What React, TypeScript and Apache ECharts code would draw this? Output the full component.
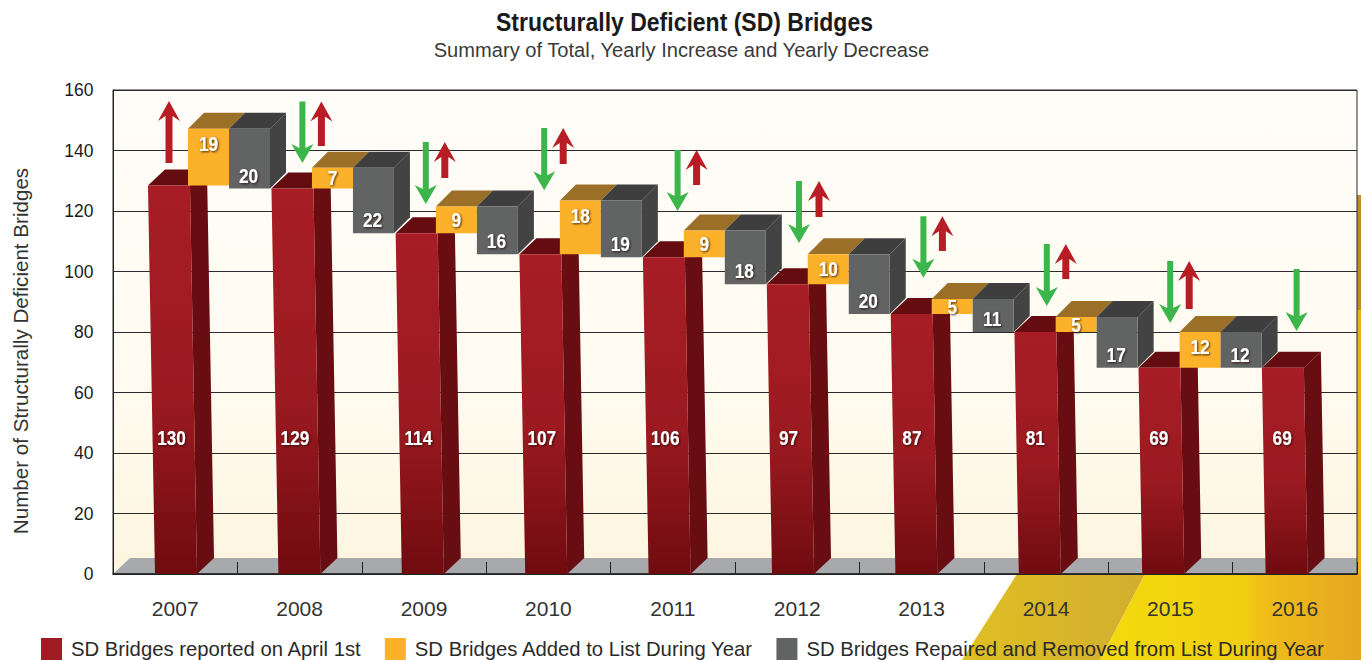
import React, { useEffect, useRef } from "react";
import * as echarts from "echarts";

const years = ["2007", "2008", "2009", "2010", "2011", "2012", "2013", "2014", "2015", "2016"];
const reported = [130, 129, 114, 107, 106, 97, 87, 81, 69, 69];
const added = [19, 7, 9, 18, 9, 10, 5, 5, 12, null];
const removed = [20, 22, 16, 19, 18, 20, 11, 17, 12, null];

// arrow extents, read in axis units
const arrowTop = [156.4, 156.2, 142.8, 147.4, 140.2, 129.9, 118.3, 109.1, 103.5, 100.8];
const greenTip = [null, 135.9, 122.3, 126.9, 120, 109.4, 97.9, 88.6, 83, 80.3];
const redTail = [135.9, 141.5, 130.9, 135.5, 128.6, 118, 106.8, 97.5, 87.6, null];

const TITLE = "Structurally Deficient (SD) Bridges";
const SUBTITLE = "Summary of Total, Yearly Increase and Yearly Decrease";
const LEGEND_RED = "SD Bridges reported on April 1st";
const LEGEND_ORANGE = "SD Bridges Added to List During Year";
const LEGEND_GRAY = "SD Bridges Repaired and Removed from List During Year";

const greenDx = [0, 2, 1, -5, 4, 1, 1, 0, -1, 1];
const redDx = [-7, 21, 20, 14, 23, 21, 20, 19, 18, 0];

const SANS = '"Liberation Sans", Arial, sans-serif';

const DEPTH = 16;
const BAR_W = 42;
const BOX_W = 41;
// the drawing's bars sit on a slightly flatter scale than the axis
const yPx = (api: any, v: number) => api.coord([0, v])[1] + 0.037 * v;

const numberLabel = (text: string, x: number, y: number) => ({
  type: "text",
  z2: 10,
  x,
  y,
  scaleX: 0.82,
  style: {
    text,
    x: 0,
    y: 0,
    align: "center",
    verticalAlign: "middle",
    fill: "#fff",
    font: `bold 21px ${SANS}`,
    textShadowColor: "rgba(40,10,10,0.85)",
    textShadowBlur: 2,
    textShadowOffsetX: 1,
    textShadowOffsetY: 1,
  },
});

const poly = (points: number[][], fill: any, z2 = 0) => ({
  type: "polygon",
  z2,
  shape: { points },
  style: { fill },
});

const vGrad = (stops: [number, string][]) =>
  new echarts.graphic.LinearGradient(
    0,
    0,
    0,
    1,
    stops.map(([offset, color]) => ({ offset, color }))
  );

function renderBar(_: any, api: any) {
  const i = api.value(0);
  const v = api.value(1);
  const cx = api.coord([i, 0])[0] + 0.8 - i;
  const y0 = api.coord([i, 0])[1];
  const y1 = yPx(api, v);
  const skew = 0.054 * v;
  const bl = cx - BAR_W / 2;
  const br = bl + BAR_W;
  const tl = bl - skew;
  const tr = br - skew;
  const labelY = api.coord([i, 45.1])[1];
  const labelX = cx - 2 - skew * ((y0 - labelY) / (y0 - y1));
  return {
    type: "group",
    children: [
      poly(
        [
          [tr, y1],
          [tr + 17, y1 - DEPTH],
          [br + 17, y0 - DEPTH],
          [br, y0],
        ],
        "#680d12"
      ),
      poly(
        [
          [tl, y1],
          [tl + 17, y1 - DEPTH],
          [tr + 17, y1 - DEPTH],
          [tr, y1],
        ],
        "#650c10"
      ),
      poly(
        [
          [tl, y1],
          [tr, y1],
          [br, y0],
          [bl, y0],
        ],
        vGrad([
          [0, "#a81d25"],
          [0.55, "#9a1a20"],
          [1, "#700b10"],
        ])
      ),
      numberLabel(String(v), labelX, labelY),
    ],
  };
}

function boxLeft(api: any, i: number) {
  return api.coord([i, 0])[0] + 12.8 - 0.45 * i;
}

function renderAdded(_: any, api: any) {
  const i = api.value(0);
  const base = api.value(1);
  const v = api.value(2);
  const x = boxLeft(api, i);
  const yb = yPx(api, base);
  const yt = yPx(api, base + v);
  const h = yb - yt;
  return {
    type: "group",
    children: [
      poly(
        [
          [x, yt],
          [x + DEPTH, yt - DEPTH],
          [x + BOX_W + DEPTH, yt - DEPTH],
          [x + BOX_W, yt],
        ],
        "#9b6f28"
      ),
      poly(
        [
          [x, yt],
          [x + BOX_W, yt],
          [x + BOX_W, yb],
          [x, yb],
        ],
        "#fbb12a"
      ),
      numberLabel(String(v), x + BOX_W / 2, yt + Math.min(15, h / 2)),
    ],
  };
}

function renderRemoved(_: any, api: any) {
  const i = api.value(0);
  const top = api.value(1);
  const v = api.value(2);
  const x = boxLeft(api, i) + BOX_W;
  const yt = yPx(api, top);
  const yb = yPx(api, top - v);
  return {
    type: "group",
    children: [
      poly(
        [
          [x, yt],
          [x + DEPTH, yt - DEPTH],
          [x + BOX_W + DEPTH, yt - DEPTH],
          [x + BOX_W, yt],
        ],
        "#3d3e3d"
      ),
      poly(
        [
          [x + BOX_W, yt],
          [x + BOX_W + DEPTH, yt - DEPTH],
          [x + BOX_W + DEPTH, yb - DEPTH],
          [x + BOX_W, yb],
        ],
        "#424342"
      ),
      poly(
        [
          [x, yt],
          [x + BOX_W, yt],
          [x + BOX_W, yb],
          [x, yb],
        ],
        "#626363"
      ),
      numberLabel(String(v), x + BOX_W / 2 - 1, yb - 13),
    ],
  };
}

function renderGreen(_: any, api: any) {
  const i = api.value(0);
  const x = api.coord([i, 0])[0] + 0.8 + greenDx[i];
  const t = api.coord([i, api.value(1)])[1];
  const e = api.coord([i, api.value(2)])[1];
  return poly(
    [
      [x - 3, t],
      [x + 3, t],
      [x + 3, e - 15],
      [x + 11, e - 19],
      [x, e],
      [x - 11, e - 19],
      [x - 3, e - 15],
    ],
    "#3cb54a",
    20
  );
}

function renderRed(_: any, api: any) {
  const i = api.value(0);
  const x = api.coord([i, 0])[0] + 0.8 + redDx[i];
  const t = api.coord([i, api.value(1)])[1];
  const e = api.coord([i, api.value(2)])[1];
  return poly(
    [
      [x, t],
      [x + 11, t + 20],
      [x + 3.5, t + 15],
      [x + 3.5, e],
      [x - 3.5, e],
      [x - 3.5, t + 15],
      [x - 11, t + 20],
    ],
    "#b81c24",
    20
  );
}

export default function App() {
  const ref = useRef<HTMLDivElement>(null);
  useEffect(() => {
    document.body.style.margin = "0";
    document.body.style.overflow = "hidden";
    document.body.style.background = "#fff";
    const chart = echarts.init(ref.current!, undefined, { renderer: "svg" });

    const barData = reported.map((v, i) => [i, v]);
    const addData = added.flatMap((v, i) => (v == null ? [] : [[i, reported[i], v]]));
    const remData = removed.flatMap((v, i) =>
      v == null ? [] : [[i, reported[i] + (added[i] as number), v]]
    );
    const greenData = greenTip.flatMap((v, i) => (v == null ? [] : [[i, arrowTop[i], v]]));
    const redData = redTail.flatMap((v, i) => (v == null ? [] : [[i, arrowTop[i], v]]));

    chart.setOption({
      animation: false,
      backgroundColor: "#fff",
      grid: { left: 113, right: 4, top: 90, bottom: 86, show: true, borderColor: "#2a2a2a", borderWidth: 1, backgroundColor: "transparent" },
      legend: {
        left: 41,
        top: 638,
        padding: 0,
        itemWidth: 21,
        itemHeight: 22,
        itemGap: 23,
        icon: "rect",
        data: [LEGEND_RED, LEGEND_ORANGE, LEGEND_GRAY],
        textStyle: { fontFamily: SANS, fontSize: 20.3, lineHeight: 20, color: "#2a2a2a", padding: [0, 0, 0, 4] },
      },
      xAxis: {
        type: "category",
        data: years,
        z: 1,
        axisLine: { show: true, lineStyle: { color: "#222", width: 1.5 } },
        axisTick: { show: true, inside: true, length: 12, lineStyle: { color: "#222" } },
        axisLabel: { margin: 24, fontFamily: SANS, fontSize: 21, color: "#333" },
      },
      yAxis: {
        type: "value",
        min: 0,
        max: 160,
        interval: 20,
        name: "Number of Structurally Deficient Bridges",
        nameLocation: "middle",
        nameGap: 82,
        nameTextStyle: { fontFamily: SANS, fontSize: 20.6, color: "#333", padding: [0, 38, 0, 0] },
        axisLine: { show: true, lineStyle: { color: "#222" } },
        axisTick: { show: false },
        axisLabel: { margin: 19.5, fontFamily: SANS, fontSize: 17.5, color: "#1a1a1a" },
        splitLine: { show: true, lineStyle: { color: "#2a2a2a", width: 1 } },
      },
      graphic: [
        { type: "polygon", z: -20, silent: true, shape: { points: [[1017, 574], [1145, 574], [1100, 660], [962, 660]] }, style: { fill: new echarts.graphic.LinearGradient(0, 0, 1, 0, [{ offset: 0, color: "#dfbf22" }, { offset: 1, color: "#d2ae30" }]) } },
        { type: "polygon", z: -20, silent: true, shape: { points: [[1145, 574], [1361, 574], [1361, 660], [1100, 660]] }, style: { fill: new echarts.graphic.LinearGradient(0, 0, 1, 0, [{ offset: 0, color: "#f3da0c" }, { offset: 0.55, color: "#f0cf12" }, { offset: 0.62, color: "#efbe18" }, { offset: 1, color: "#e6a622" }]) } },
        { type: "rect", z: -20, silent: true, shape: { x: 1357, y: 195, width: 4, height: 115 }, style: { fill: "#c28a2c" } },
        { type: "rect", z: -20, silent: true, shape: { x: 1357, y: 310, width: 4, height: 264 }, style: { fill: "#eeb01f" } },
        { type: "rect", z: -15, silent: true, shape: { x: 113, y: 90, width: 1244, height: 484 }, style: { fill: vGrad([[0, "#fffdf9"], [0.6, "#fffbf0"], [1, "#fdf5df"]]) } },
        { type: "polygon", z: -14, silent: true, shape: { points: [[113, 574], [130, 558], [1357, 558], [1357, 574]] }, style: { fill: "#a7a9ac" } },
        { type: "text", x: 684.5, y: 22, scaleX: 0.92, style: { text: TITLE, x: 0, y: 0, align: "center", verticalAlign: "middle", font: `bold 25px ${SANS}`, fill: "#1a1a1a" } },
        { type: "text", x: 681.5, y: 50, style: { text: SUBTITLE, x: 0, y: 0, align: "center", verticalAlign: "middle", font: `20.1px ${SANS}`, fill: "#3a3a3a" } },
      ],
      series: [
        { type: "custom", name: LEGEND_RED, z: 3, clip: false, itemStyle: { color: "#a01c22" }, data: barData, encode: { x: 0, y: 1 }, renderItem: renderBar },
        { type: "custom", name: LEGEND_ORANGE, z: 4, clip: false, itemStyle: { color: "#fbb12a" }, data: addData, encode: { x: 0, y: 1 }, renderItem: renderAdded },
        { type: "custom", name: LEGEND_GRAY, z: 5, clip: false, itemStyle: { color: "#626363" }, data: remData, encode: { x: 0, y: 1 }, renderItem: renderRemoved },
        { type: "custom", name: "Decrease", z: 6, clip: false, itemStyle: { color: "#3cb54a" }, data: greenData, encode: { x: 0, y: 1 }, renderItem: renderGreen },
        { type: "custom", name: "Increase", z: 6, clip: false, itemStyle: { color: "#b81c24" }, data: redData, encode: { x: 0, y: 1 }, renderItem: renderRed },
      ],
    });
    return () => chart.dispose();
  }, []);
  return <div ref={ref} style={{ width: 1361, height: 660 }} />;
}
